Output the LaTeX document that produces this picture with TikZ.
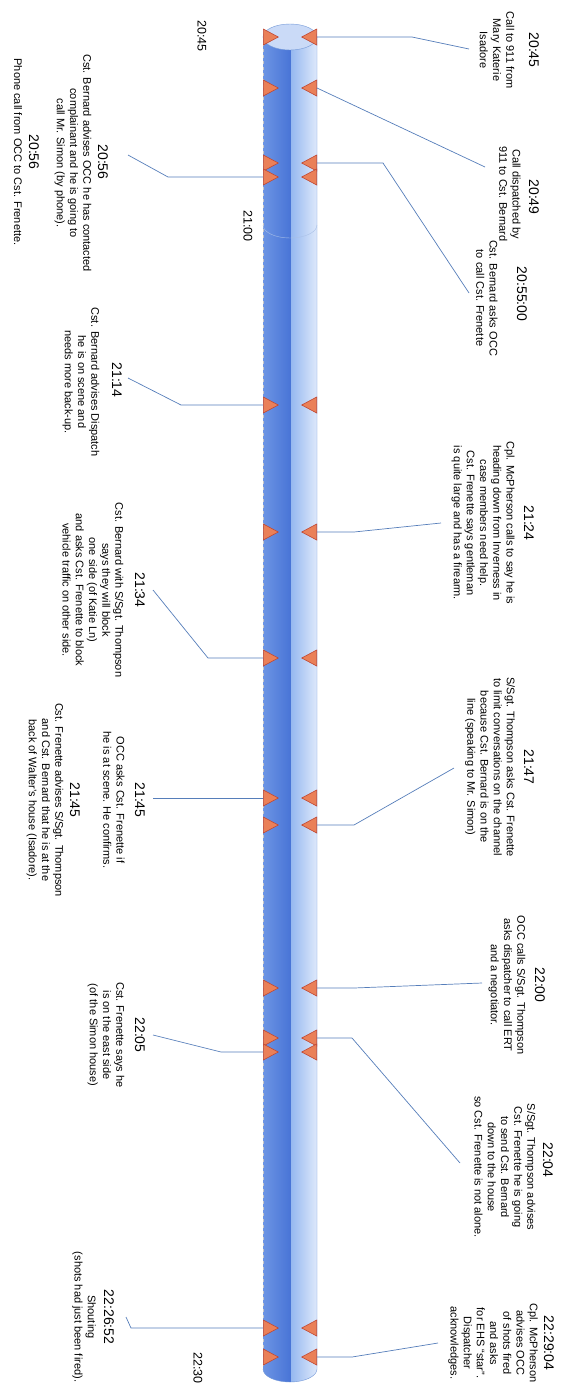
\documentclass[tikz,border=0pt]{standalone}
\usepackage{fontspec}
\setmainfont{Liberation Sans}
\usetikzlibrary{shapes.geometric}

\definecolor{cylA}{RGB}{108,148,228}
\definecolor{cylB}{RGB}{72,116,214}
\definecolor{cylC}{RGB}{150,184,240}
\definecolor{cylD}{RGB}{222,233,251}
\definecolor{capfill}{RGB}{202,218,247}
\definecolor{rimline}{RGB}{112,150,214}
\definecolor{markfill}{RGB}{234,128,88}
\definecolor{markline}{RGB}{192,72,52}
\definecolor{connline}{RGB}{86,126,186}

\tikzset{
  lmark/.style={isosceles triangle, isosceles triangle stretches,
    minimum width=16pt, minimum height=15pt, inner sep=0pt,
    fill=markfill, draw=markline, line width=0.6pt, anchor=west},
  rmark/.style={lmark, shape border rotate=180, anchor=east},
  conn/.style={draw=connline, line width=0.7pt},
  stamp/.style={rotate=-90, inner sep=0pt, font=\fontsize{14}{16}\selectfont},
  note/.style={rotate=-90, align=center, inner sep=0pt,
    font=\fontsize{11}{13.2}\selectfont},
  hourlbl/.style={rotate=-90, inner sep=0pt, font=\fontsize{12.5}{14}\selectfont}
}

\begin{document}
\begin{tikzpicture}[x=1pt,y=-1pt]
\useasboundingbox (0,0) rectangle (572,1395);
% Cylinder
\begin{scope}
\clip (263,37) -- (263,1369) arc[start angle=180, end angle=0, x radius=27, y radius=13] -- (317,37) -- cycle;
\shade[left color=cylA, right color=cylB] (263,20) rectangle (291,1390);
\shade[left color=cylC, right color=cylD] (291,20) rectangle (317,1390);
\end{scope}
\draw[rimline, thin] (317,37) -- (317,1369) arc[start angle=0, end angle=180, x radius=27, y radius=13];
\draw[gray!45, dashed, very thin] (263,37) -- (263,1369);
\draw[rimline!60, thin] (263,225) arc[start angle=180, end angle=0, x radius=27, y radius=13];
\filldraw[fill=capfill, draw=rimline, thin] (290,37) ellipse[x radius=27, y radius=13];
% Hours
\node[hourlbl] (h2045) at (202,36) {20:45};
\node[hourlbl] (h2100) at (248,226) {21:00};
\node[hourlbl] (h2230) at (198,1368) {22:30};
% Markers
\foreach \y [count=\i] in {37,88,163,177,405,532,658,798,825,988,1038,1052,1328,1357}{
  \node[lmark] (l\i) at (263,\y) {};
  \node[rmark] (r\i) at (317,\y) {};
}
% Events, right side
\node[stamp] (t2045) at (534,50) {20:45};
\node[note] (d2045) at (497,50) {Call to 911 from\\Mary Katerie\\Isadore};
\node[stamp] (t2049) at (534,197) {20:49};
\node[note] (d2049) at (510,194) {Call dispatched by\\911 to Cst. Bernard};
\node[stamp] (t2055) at (522,294) {20:55:00};
\node[note] (d2055) at (487,298) {Cst. Bernard asks OCC\\to call Cst. Frenette};
\node[stamp] (t2124) at (529,523) {21:24};
\node[note] (d2124) at (483,523) {Cpl. McPherson calls to say he is\\heading down from Inverness in\\case members need help.\\Cst. Frenette says gentleman\\is quite large and has a firearm.};
\node[stamp] (t2147) at (529,767) {21:47};
\node[note] (d2147) at (490,767) {S/Sgt. Thompson asks Cst. Frenette\\to limit conversations on the channel\\because Cst. Bernard is on the\\line (speaking to Mr. Simon)};
\node[stamp] (t2200) at (540,985) {22:00};
\node[note] (d2200) at (507,985) {OCC calls S/Sgt. Thompson\\asks dispatcher to call ERT\\and a negotiator.};
\node[stamp] (t2204) at (548,1160) {22:04};
\node[note] (d2204) at (505,1167) {S/Sgt. Thompson advises\\Cst. Frenette he is going\\to send Cst. Bernard\\down to the house\\so Cst. Frenette is not alone.};
\node[stamp] (t2229) at (549,1343) {22:29:04};
\node[note] (d2229) at (493,1343) {Cpl. McPherson\\advises OCC\\of shots fired\\and asks\\for EHS “star”.\\Dispatcher\\acknowledges.};
% Events, left side
\node[stamp] (t2056a) at (103,162) {20:56};
\node[note] (d2056a) at (73,163) {Cst. Bernard advises OCC he has contacted\\complainant and he is going to\\call Mr. Simon (by phone).};
\node[stamp] (t2056b) at (34,152) {20:56};
\node[note] (d2056b) at (18,152) {Phone call from OCC to Cst. Frenette.};
\node[stamp] (t2114) at (117,380) {21:14};
\node[note] (d2114) at (81,382) {Cst. Bernard advises Dispatch\\he is on scene and\\needs more back-up.};
\node[stamp] (t2134) at (140,590) {21:34};
\node[note] (d2134) at (93,590) {Cst. Bernard with S/Sgt. Thompson\\says they will block\\one side (of Katie Ln)\\and asks Cst. Frenette to block\\vehicle traffic on other side.};
\node[stamp] (t2145a) at (140,800) {21:45};
\node[note] (d2145a) at (114,800) {OCC asks Cst. Frenette if\\he is at scene. He confirms.};
\node[stamp] (t2145b) at (75,800) {21:45};
\node[note] (d2145b) at (45,800) {Cst. Frenette advises S/Sgt. Thompson\\and Cst. Bernard that he is at the\\back of Walter's house (Isadore).};
\node[stamp] (t2205) at (140,1035) {22:05};
\node[note] (d2205) at (106,1035) {Cst. Frenette says he\\is on the east side\\(of the Simon house)};
\node[stamp] (t2226) at (109,1317) {22:26:52};
\node[note] (d2226) at (84,1317) {Shouting\\(shots had just been fired).};
% Connector ends
\coordinate (c2045) at (469,49);
\coordinate (c2049) at (485,167);
\coordinate (c2055) at (469,293);
\coordinate (c2056) at (128,155);
\coordinate (c2114) at (128,378);
\coordinate (c2124) at (441,523);
\coordinate (c2134) at (153,590);
\coordinate (c2145) at (153,798);
\coordinate (c2147) at (454,768);
\coordinate (c2200) at (482,983);
\coordinate (c2204) at (460,1163);
\coordinate (c2205) at (153,1035);
\coordinate (c2226) at (126,1317);
\coordinate (c2229) at (438,1343);
% Connectors
\draw[conn] (r1.east) -- ++(95,0) -- (c2045);
\draw[conn] (r2.east) -- (c2049);
\draw[conn] (r3.east) -- ++(66,0) -- (c2055);
\draw[conn] (l4.west) -- ++(-95,0) -- (c2056);
\draw[conn] (l5.west) -- ++(-82,0) -- (c2114);
\draw[conn] (r6.east) -- ++(37,0) -- (c2124);
\draw[conn] (l7.west) -- ++(-55,0) -- (c2134);
\draw[conn] (l8.west) -- (c2145);
\draw[conn] (r9.east) -- ++(37,0) -- (c2147);
\draw[conn] (r10.east) -- ++(37,0) -- (c2200);
\draw[conn] (r11.east) -- ++(35,0) -- (c2204);
\draw[conn] (l12.west) -- ++(-42,0) -- (c2205);
\draw[conn] (l13.west) -- ++(-132,0) -- (c2226);
\draw[conn] (r14.east) -- ++(35,0) -- (c2229);
\end{tikzpicture}
\end{document}
